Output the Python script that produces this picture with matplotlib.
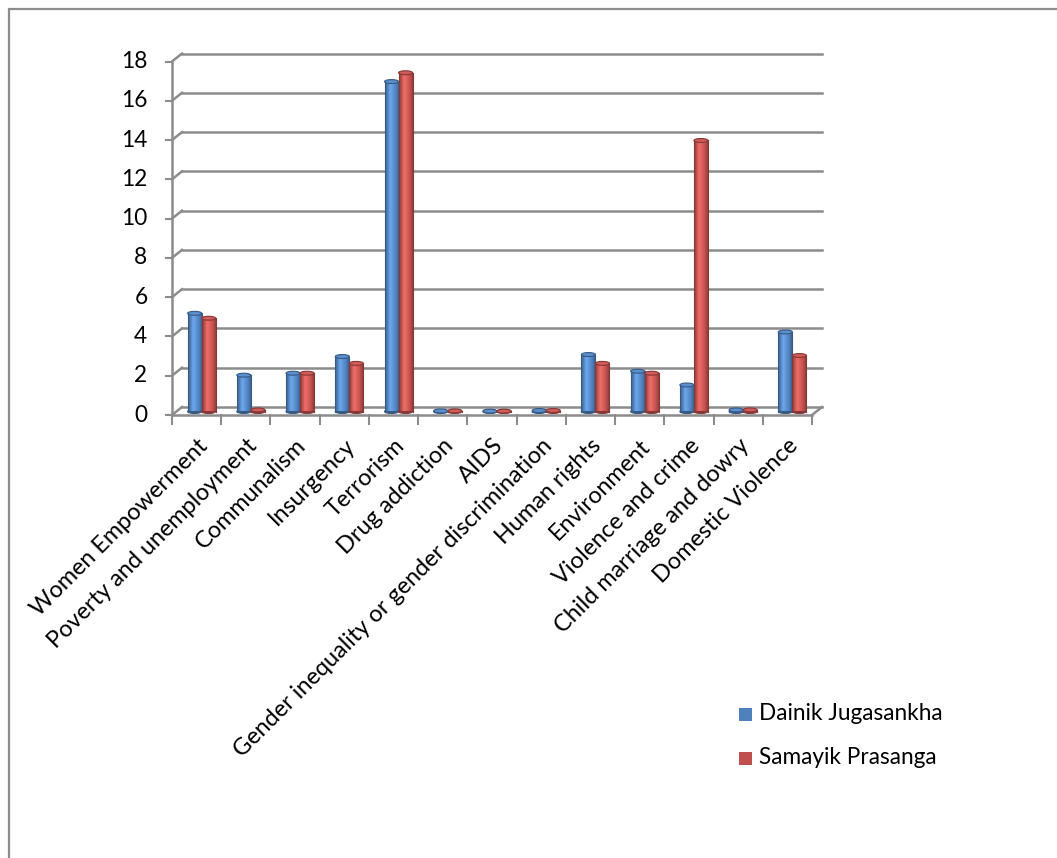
import numpy as np
import matplotlib.pyplot as plt
import matplotlib.transforms as mtransforms
from matplotlib.colors import LinearSegmentedColormap, to_rgb
from matplotlib.patches import Rectangle, Ellipse

plt.rcParams['font.family'] = ['Lato', 'DejaVu Sans']

categories = ['Women Empowerment', 'Poverty and unemployment', 'Communalism',
              'Insurgency', 'Terrorism', 'Drug addiction', 'AIDS',
              'Gender inequality or gender discrimination', 'Human rights',
              'Environment', 'Violence and crime', 'Child marriage and dowry',
              'Domestic Violence']
dainik = [5.0, 1.85, 1.95, 2.8, 16.8, 0.03, 0.02, 0.05, 2.9, 2.05, 1.35, 0.08, 4.05]
samayik = [4.75, 0.08, 1.95, 2.45, 17.25, 0.03, 0.02, 0.05, 2.45, 1.95, 13.8, 0.08, 2.85]
series_names = ['Dainik Jugasankha', 'Samayik Prasanga']
series_colors = ['#4F81BD', '#C0504D']
yticks = list(range(0, 20, 2))

fs = 16.3
fig = plt.figure(figsize=(10.57, 8.58), dpi=100)
# outer frame
fig.patches.append(Rectangle((8.5 / 1057, -0.01), 1.1, 849.5 / 858 + 0.01,
                             transform=fig.transFigure, fill=False,
                             edgecolor='#8c8c8c', lw=1.6))

ax = fig.add_axes([172 / 1057, 1 - 415 / 858, 640 / 1057, 353.5 / 858])
ax.set_xlim(0, 13)
ax.set_ylim(0, 18)
ax.axis('off')

grid_c = '#8c8c8c'
px = fig.dpi_scale_trans
back = ax.transData + mtransforms.ScaledTranslation(0.10, 0.08, px)
mid = ax.transData + mtransforms.ScaledTranslation(0.05, 0.035, px)
inv = ax.transData.inverted()

# back wall gridlines, side wall diagonals, y ticks
for t in yticks:
    ax.plot([0, 13], [t, t], color=grid_c, lw=1.8, transform=back,
            clip_on=False, zorder=1)
    q1 = inv.transform(back.transform((0, t)))
    ax.plot([0, q1[0]], [t, q1[1]], color=grid_c, lw=1.8, clip_on=False,
            zorder=1)
    ax.plot([0, -0.13], [t, t], color=grid_c, lw=1.5, clip_on=False, zorder=1)
    ax.text(-0.5, t, str(t), ha='right', va='center', fontsize=fs,
            clip_on=False)
# front vertical axis
ax.plot([0, 0], [0, 18], color=grid_c, lw=1.8, clip_on=False, zorder=1)
# floor front edge, right side and category ticks
br = inv.transform(back.transform((13, 0)))
ax.plot([0, 13], [0, 0], color=grid_c, lw=1.8, zorder=1, clip_on=False)
ax.plot([13, br[0]], [0, br[1]], color=grid_c, lw=1.8, zorder=1, clip_on=False)
for i in range(14):
    ax.plot([i, i], [0, -0.45], color=grid_c, lw=1.5, clip_on=False, zorder=1)


def cylinder_cmap(c):
    r = np.array(to_rgb(c))
    dark = r * 0.72
    light = np.minimum(r * 1.18 + 0.06, 1)
    return LinearSegmentedColormap.from_list(
        'cyl', [(0, dark), (0.35, light), (0.75, r), (1, dark * 0.95)])


grad = np.linspace(0, 1, 64).reshape(1, -1)
w = 0.285
eh = 0.2
for k, (vals, col) in enumerate(zip([dainik, samayik], series_colors)):
    cm = cylinder_cmap(col)
    edge = np.array(to_rgb(col)) * 0.7
    top = np.minimum(np.array(to_rgb(col)) * 1.05 + 0.03, 1)
    for i, v in enumerate(vals):
        xc = i + 0.5 + (k - 0.5) * w
        x0 = xc - w / 2
        ax.add_patch(Ellipse((xc, 0), w, eh, facecolor=edge, edgecolor=edge,
                             lw=0.8, zorder=3, transform=mid, clip_on=False))
        rect = Rectangle((x0, 0), w, v, facecolor='none', edgecolor='none',
                         transform=mid)
        ax.add_patch(rect)
        im = ax.imshow(grad, cmap=cm, extent=[x0, x0 + w, 0, v], aspect='auto',
                       zorder=3, interpolation='bilinear', transform=mid)
        im.set_clip_path(rect)
        ax.plot([x0, x0], [0, v], color=edge, lw=0.8, zorder=3, transform=mid,
                clip_on=False)
        ax.plot([x0 + w, x0 + w], [0, v], color=edge, lw=0.8, zorder=3,
                transform=mid, clip_on=False)
        ax.add_patch(Ellipse((xc, v), w, eh, facecolor=top, edgecolor=edge,
                             lw=0.8, zorder=4, transform=mid, clip_on=False))
ax.set_xlim(0, 13)
ax.set_ylim(0, 18)

# rotated category labels
off = mtransforms.ScaledTranslation(0.0, -0.2, px)
for i, name in enumerate(categories):
    ax.text(i + 0.5, 0, name, transform=ax.transData + off, rotation=45,
            rotation_mode='anchor', ha='right', va='top', fontsize=16.9,
            clip_on=False)

# legend
for j, (name, col) in enumerate(zip(series_names, series_colors)):
    yy = 1 - (714 + 44 * j) / 858
    fig.patches.append(Rectangle((739 / 1057, yy - 6.5 / 858), 13 / 1057, 13 / 858,
                                 transform=fig.transFigure, facecolor=col,
                                 edgecolor='none'))
    fig.text(759 / 1057, yy + 0.5 / 858, name, ha='left', va='center',
             fontsize=fs)

fig.savefig('out.png', dpi=100)
